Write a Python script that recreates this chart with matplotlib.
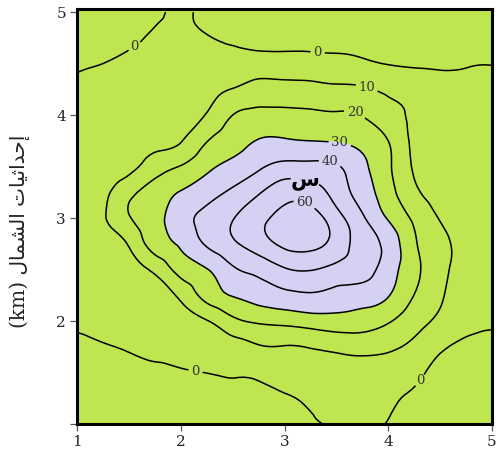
import numpy as np
import matplotlib
matplotlib.use('Agg')
import matplotlib.pyplot as plt
import matplotlib.tri as mtri

x_km = [1.0, 1.25, 1.5, 1.75, 2.0, 2.25, 2.5, 2.75, 3.0, 3.25, 3.5, 3.75, 4.0, 4.25, 4.5, 4.75, 5.0]
y_km = [1.0, 1.25, 1.5, 1.75, 2.0, 2.25, 2.5, 2.75, 3.0, 3.25, 3.5, 3.75, 4.0, 4.25, 4.5, 4.75, 5.0]

r100 = [-5, -4.8, -4.5, -4, -3.5, -3, -2.5, -1.8, -1, -0.3, 0.4, 0.6, -0.1, -1, -2.5, -3.3, -3.8]
r125 = [-4, -3.8, -3.5, -3, -2.5, -2, -1.5, -1.5, -0.8, 1.2, 2.5, 2.8, 1, -0.8, -2, -2.8, -3.2]
r150 = [-3, -2.5, -1.8, -1.2, -0.6, 0.1, 0.6, 1.5, 4.1, 5.5, 5, 5.5, 5, 2, -2, -2.3, -2.8]
r175 = [-1.5, -0.5, 0.7, 2, 3.5, 5, 6, 9.2, 9.6, 10.5, 12.5, 13.6, 11.8, 7.6, 1.5, -1.5, -1.5]
r200 = [1.2, 2.5, 4, 5.5, 7, 9.5, 17.5, 21.5, 23, 25, 26, 25, 21, 13.9, 8, 3, 0.8]
r225 = [3, 4, 5.5, 7, 12, 23.8, 30.5, 34.3, 37.4, 38.9, 36.8, 35, 30.5, 19.8, 11, 6, 3]
r250 = [4.5, 5.5, 7.5, 12, 24, 29.6, 38.5, 43, 49, 50.5, 47, 44, 34.8, 22.9, 12.5, 7, 4.5]
r275 = [5.5, 7, 10.8, 25, 31.3, 41.4, 48.6, 55.3, 62, 63, 56, 45.5, 36.5, 21.5, 12.4, 7, 5]
r300 = [6, 9, 19.2, 27, 35.6, 43.3, 49.5, 57.2, 63, 64, 54, 41.4, 29.1, 18.2, 9.5, 6, 4]
r325 = [5.5, 8, 17, 24.5, 30.6, 36, 41.8, 49, 56, 55, 46, 35.3, 23.8, 12, 7, 5.5, 4.5]
r350 = [4.5, 6, 7.5, 15, 20.5, 27.8, 32.9, 38.4, 43, 43, 41, 32.4, 21.7, 9, 6, 4.5, 4]
r375 = [3.5, 4.5, 6, 7.5, 9.5, 19.5, 26, 30.5, 31, 30, 29.3, 26.8, 20, 8, 5.5, 4, 3.5]
r400 = [2.5, 3, 4.5, 6, 7.5, 10.5, 20, 22.7, 22.4, 21.7, 21, 19.8, 13.7, 8.5, 5, 3.5, 2.5]
r425 = [1.5, 2, 3, 4.5, 6, 8, 10.3, 13.7, 13.6, 13.1, 12, 11.3, 8, 6, 4, 3, 2]
r450 = [-0.8, 0, 1, 2, 3, 4, 4.3, 4.4, 4, 3.8, 3, 1.6, -0.3, -1, -1.3, -0.7, -0.2]
r475 = [-2, -1.5, -0.7, 0.5, 1, 0.3, -1.5, -3, -3, -3, -3, -3, -3, -3, -3, -3, -2.5]
r500 = [-4, -3, -2, -0.8, 0.6, -1, -2.5, -3.5, -4, -4.5, -4.5, -4.5, -4.5, -4.5, -4.5, -4, -4]

z_rows = [r100, r125, r150, r175, r200, r225, r250, r275, r300, r325, r350,
          r375, r400, r425, r450, r475, r500]

line_levels = [0, 10, 20, 30, 40, 60]
peak_level = [50]
fill_breaks = [-20, 30, 100]
fill_colors = ['#bee650', '#d5d1f2']

xticks = [1, 2, 3, 4, 5]
xticklabels = ['1', '2', '3', '4', '5']
yticks = [1, 2, 3, 4, 5]
yticklabels = ['', '2', '3', '4', '5']

# Arabic y label, written in presentation (shaped) forms, visual order
word_shamal = '\ufedd\ufe8e\ufee4\ufeb8\ufedf\ufe8d'          # الشمال
word_ihdathiyat = '\ufe95\ufe8e\ufef4\ufe9b\ufe8d\ufeaa\ufea3\ufe87'  # إحداثيات
ylabel_text = '(km) ' + word_shamal + ' ' + word_ihdathiyat
peak_label = 'س'

# ---------------- figure ----------------
plt.rcParams['font.family'] = ['DejaVu Serif', 'DejaVu Sans']

fig = plt.figure(figsize=(4.98, 4.57), dpi=100)
ax = fig.add_axes([77 / 498, 33 / 457, 415 / 498, 415.5 / 457])
ax.set_facecolor(fill_colors[0])

X, Y = np.meshgrid(np.array(x_km), np.array(y_km))
Z = np.array(z_rows, dtype=float)

tri = mtri.Triangulation(X.ravel(), Y.ravel())
interp = mtri.CubicTriInterpolator(tri, Z.ravel(), kind='min_E')
refiner = mtri.UniformTriRefiner(tri)
tri_r, z_r = refiner.refine_field(Z.ravel(), triinterpolator=interp, subdiv=3)

ax.tricontourf(tri_r, z_r, levels=fill_breaks, colors=fill_colors)
cs = ax.tricontour(tri_r, z_r, levels=line_levels, colors='k', linewidths=1.1)
cs50 = ax.tricontour(tri_r, z_r, levels=peak_level, colors='k', linewidths=1.1)

texts = ax.clabel(cs, fmt='%d', inline=True, fontsize=9.5, colors='#333333', inline_spacing=3,
                  manual=[(1.56, 4.66), (3.32, 4.61), (2.14, 1.50), (4.30, 1.43),
                          (3.80, 4.29), (3.68, 4.02), (3.53, 3.71), (3.44, 3.55),
                          (3.20, 3.16)])
pk = ax.clabel(cs50, fmt={50: peak_label}, manual=[(3.20, 3.37)],
               inline=True, fontsize=15, colors='k', inline_spacing=2)
for t in pk:
    t.set_fontweight('bold')
for t in list(texts) + list(pk):
    t.set_rotation(0)

ax.set_xlim(1, 5)
ax.set_ylim(1, 5.035)
ax.set_xticks(xticks)
ax.set_xticklabels(xticklabels)
ax.set_yticks(yticks)
ax.set_yticklabels(yticklabels)
ax.tick_params(direction='out', length=5, width=0.9, color='#555555',
               labelsize=11, labelcolor='#222222', pad=3)
for s in ax.spines.values():
    s.set_linewidth(2.2)
    s.set_color('black')

fig.text(20 / 498, 1 - 231 / 457, ylabel_text, rotation=90, ha='center', va='center',
         fontsize=14.5, color='#222222')

fig.savefig('out.png', dpi=100)
